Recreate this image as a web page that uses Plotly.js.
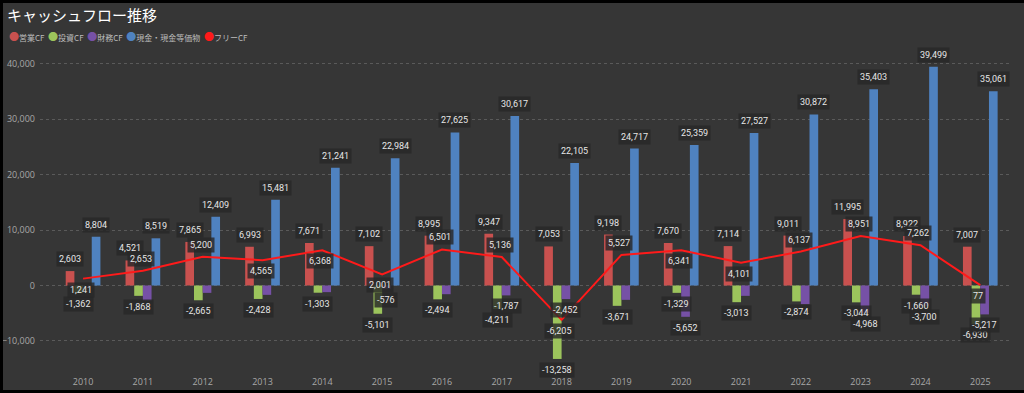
<!DOCTYPE html>
<html><head><meta charset="utf-8">
<script src="https://cdn.plot.ly/plotly-3.0.1.min.js"></script>
<style>
html,body{margin:0;padding:0;background:#000;width:1024px;height:393px;overflow:hidden}
#chart{position:absolute;left:3px;top:3px;width:1021px;height:387px}
</style></head>
<body><div id="chart"></div>
<script>
// ---- data ----
const years = ['2010','2011','2012','2013','2014','2015','2016','2017','2018','2019','2020','2021','2022','2023','2024','2025'];
const operatingCF = [2603,4521,7865,6993,7671,7102,8995,9347,7053,9198,7670,7114,9011,11995,8922,7007];
const investingCF = [-1362,-1868,-2665,-2428,-1303,-5101,-2494,-4211,-13258,-3671,-1329,-3013,-2874,-3044,-1660,-6930];
const financingCF = [null,-2710,-1330,-1690,-1200,-576,-1570,-1787,-2452,-2590,-5652,-1870,-3370,-4968,-3700,-5217];
const cashEq = [8804,8519,12409,15481,21241,22984,27625,30617,22105,24717,25359,27527,30872,35403,39499,35061];
const freeCF = [1241,2653,5200,4565,6368,2001,6501,5136,-6205,5527,6341,4101,6137,8951,7262,77];
const finLabeledYears = ['2015','2017','2018','2020','2023','2024','2025'];
const seriesNames = ['営業CF','投資CF','財務CF','現金・現金等価物','フリーCF'];

// ---- styles ----
const colors = ['#c9514f','#9cc45c','#7651a6','#4f82c0','#ff1a1a'];
const freeLabelAbove = [false,true,true,false,false,false,true,true,false,true,false,false,true,true,true,false];
const W = 1021, H = 387, ML = 37, MR = 12, MT = 52, MB = 23;
const xr = [-0.72, 15.53];
const bargap = 0.42;
const catPx = (W - ML - MR) / (xr[1] - xr[0]);
const barW = catPx * (1 - bargap) / 4;
const offs = [-1.5, -0.5, 0.5, 1.5].map(k => k * barW);

const barSeries = [operatingCF, investingCF, financingCF, cashEq];
const traces = barSeries.map((v, i) => ({
  type: 'bar', x: years, y: v, name: seriesNames[i],
  marker: {color: colors[i]}, showlegend: false, hoverinfo: 'x+y+name'
}));
traces.push({
  type: 'scatter', mode: 'lines', x: years, y: freeCF, name: seriesNames[4],
  line: {color: colors[4], width: 2}, showlegend: false
});

const fmt = v => v.toLocaleString('en-US');
const labelFont = {family: 'Roboto, DejaVu Sans, sans-serif', size: 9, color: '#e6e6e6'};
const ann = [];
function lab(idx, y, text, xshift, above) {
  ann.push({x: idx, y: y, xref: 'x', yref: 'y', text: text, showarrow: false,
    xshift: xshift, yshift: above ? 4 : -3, yanchor: above ? 'bottom' : 'top',
    font: labelFont, bgcolor: 'rgba(40,40,40,0.82)', borderpad: 2});
}
years.forEach((yr, i) => {
  lab(i, operatingCF[i], fmt(operatingCF[i]), offs[0], true);
  lab(i, investingCF[i], fmt(investingCF[i]), offs[1], false);
  if (finLabeledYears.includes(yr) && financingCF[i] !== null) lab(i, financingCF[i], fmt(financingCF[i]), offs[2], false);
  lab(i, cashEq[i], fmt(cashEq[i]), offs[3], true);
  lab(i, freeCF[i], fmt(freeCF[i]), -2, freeLabelAbove[i]);
});

// legend as text line
const legendText = seriesNames.map((n, i) =>
  `<span style="color:${colors[i]};font-size:10px">●</span>${n}`).join('  ');
ann.push({xref: 'paper', yref: 'paper', x: (4 - ML) / (W - ML - MR), y: (H - MB - 34) / (H - MT - MB),
  xanchor: 'left', yanchor: 'middle', showarrow: false, text: legendText,
  font: {family: 'Noto Sans CJK JP, sans-serif', size: 8, color: '#bdbdbd'}});

const layout = {
  width: W, height: H,
  margin: {l: ML, r: MR, t: MT, b: MB, pad: 0},
  paper_bgcolor: '#363636', plot_bgcolor: '#363636',
  title: {text: 'キャッシュフロー推移', x: 4 / W, xanchor: 'left', xref: 'container',
    y: 1 - 13 / H, yref: 'container', yanchor: 'middle',
    font: {family: 'Noto Sans CJK JP, sans-serif', size: 15, color: '#ffffff'}},
  barmode: 'group', bargap: bargap, bargroupgap: 0,
  showlegend: false,
  xaxis: {type: 'category', range: xr, showgrid: false, zeroline: false, showline: false,
    ticks: '', tickfont: {family: 'Open Sans, sans-serif', size: 9, color: '#a8a8a8'},
    ticklabelstandoff: 8},
  yaxis: {range: [-14711, 41606], tickvals: [-10000, 0, 10000, 20000, 30000, 40000],
    tickformat: ',d', showgrid: true, gridcolor: '#5a5a5a', griddash: 'dot', gridwidth: 1,
    zeroline: false, showline: false, ticks: '',
    tickfont: {family: 'Open Sans, sans-serif', size: 9, color: '#a8a8a8'}, ticklabelstandoff: 4},
  annotations: ann
};
Plotly.newPlot('chart', traces, layout, {displayModeBar: false, staticPlot: true});
</script></body></html>
